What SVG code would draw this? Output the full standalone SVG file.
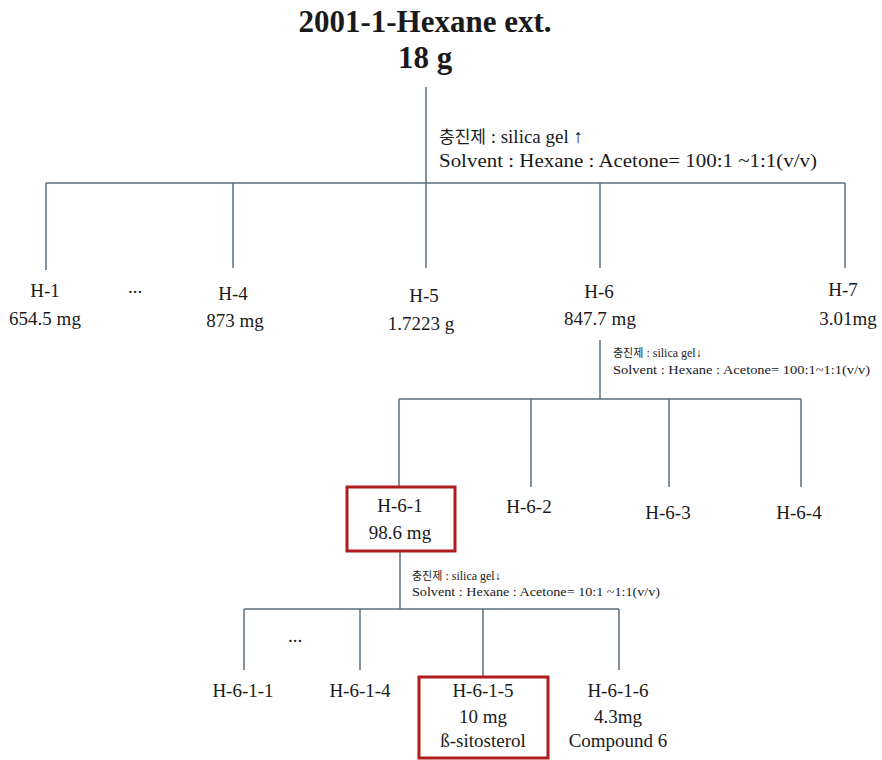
<svg xmlns="http://www.w3.org/2000/svg" width="882" height="760" viewBox="0 0 882 760">
<style>
.t{font-family:"Liberation Serif","Times New Roman",serif;fill:#1a1a1a}
.k{font-family:"Noto Sans CJK KR",sans-serif}
.title{font-size:31px;font-weight:bold;text-anchor:middle}
.lbl{font-size:19px;text-anchor:middle}
.ann{font-size:19px}
.sm{font-size:12px}
.ln{stroke:#5b6f7c;stroke-width:1.5;fill:none}
.box{fill:none;stroke:#b01c1c;stroke-width:3}
</style>
<rect width="882" height="760" fill="#fff"/>
<g id="connectors">
<path class="ln" d="M426 87V183M46 183H845M46 183V270M233 183V268M426 183V268M600 183V268M845 183V268"/>
<path class="ln" d="M600 340V399M399 399H801M399 399V487M531 399V487M669 399V487M801 399V487"/>
<path class="ln" d="M400 552V609M244 609H619M244 609V670M360 609V670M483 609V676M619 609V670"/>
</g>
<g id="root">
<text class="t title" x="425" y="32">2001-1-Hexane ext.</text>
<text class="t title" x="425" y="68">18 g</text>
</g>
<g id="ann1">
<text class="t ann" x="439" y="143"><tspan class="k" font-size="17">충진제</tspan> : silica gel ↑</text>
<text class="t ann" x="439" y="167" textLength="378" lengthAdjust="spacingAndGlyphs">Solvent : Hexane : Acetone= 100:1 ~1:1(v/v)</text>
</g>
<g id="H-1"><text class="t lbl" x="45" y="297">H-1</text><text class="t lbl" x="45" y="325">654.5 mg</text></g>
<g id="dots1"><text class="t lbl" x="135" y="293" font-size="14">...</text></g>
<g id="H-4"><text class="t lbl" x="233" y="300">H-4</text><text class="t lbl" x="235" y="327">873 mg</text></g>
<g id="H-5"><text class="t lbl" x="424" y="302">H-5</text><text class="t lbl" x="421" y="330">1.7223 g</text></g>
<g id="H-6"><text class="t lbl" x="599" y="298">H-6</text><text class="t lbl" x="600" y="325">847.7 mg</text></g>
<g id="H-7"><text class="t lbl" x="843" y="296">H-7</text><text class="t lbl" x="848" y="325">3.01mg</text></g>
<g id="ann2">
<text class="t sm" x="613" y="357"><tspan class="k" font-size="11">충진제</tspan> : silica gel↓</text>
<text class="t sm" x="613" y="374" textLength="257" lengthAdjust="spacingAndGlyphs">Solvent : Hexane : Acetone= 100:1~1:1(v/v)</text>
</g>
<g id="H-6-1"><rect class="box" x="347" y="487" width="108" height="64"/><text class="t lbl" x="400" y="512">H-6-1</text><text class="t lbl" x="400" y="539">98.6 mg</text></g>
<g id="H-6-2"><text class="t lbl" x="529" y="513">H-6-2</text></g>
<g id="H-6-3"><text class="t lbl" x="668" y="519">H-6-3</text></g>
<g id="H-6-4"><text class="t lbl" x="799" y="519">H-6-4</text></g>
<g id="ann3">
<text class="t sm" x="412" y="580"><tspan class="k" font-size="11">충진제</tspan> : silica gel↓</text>
<text class="t sm" x="412" y="596" textLength="248" lengthAdjust="spacingAndGlyphs">Solvent : Hexane : Acetone= 10:1 ~1:1(v/v)</text>
</g>
<g id="dots2"><text class="t lbl" x="295" y="642" font-size="14">...</text></g>
<g id="H-6-1-1"><text class="t lbl" x="243" y="697">H-6-1-1</text></g>
<g id="H-6-1-4"><text class="t lbl" x="360" y="697">H-6-1-4</text></g>
<g id="H-6-1-5"><rect class="box" x="419" y="677" width="129" height="81"/><text class="t lbl" x="483" y="697">H-6-1-5</text><text class="t lbl" x="483" y="723">10 mg</text><text class="t lbl" x="483" y="747">ß-sitosterol</text></g>
<g id="H-6-1-6"><text class="t lbl" x="618" y="697">H-6-1-6</text><text class="t lbl" x="618" y="723">4.3mg</text><text class="t lbl" x="618" y="747">Compound 6</text></g>
</svg>
